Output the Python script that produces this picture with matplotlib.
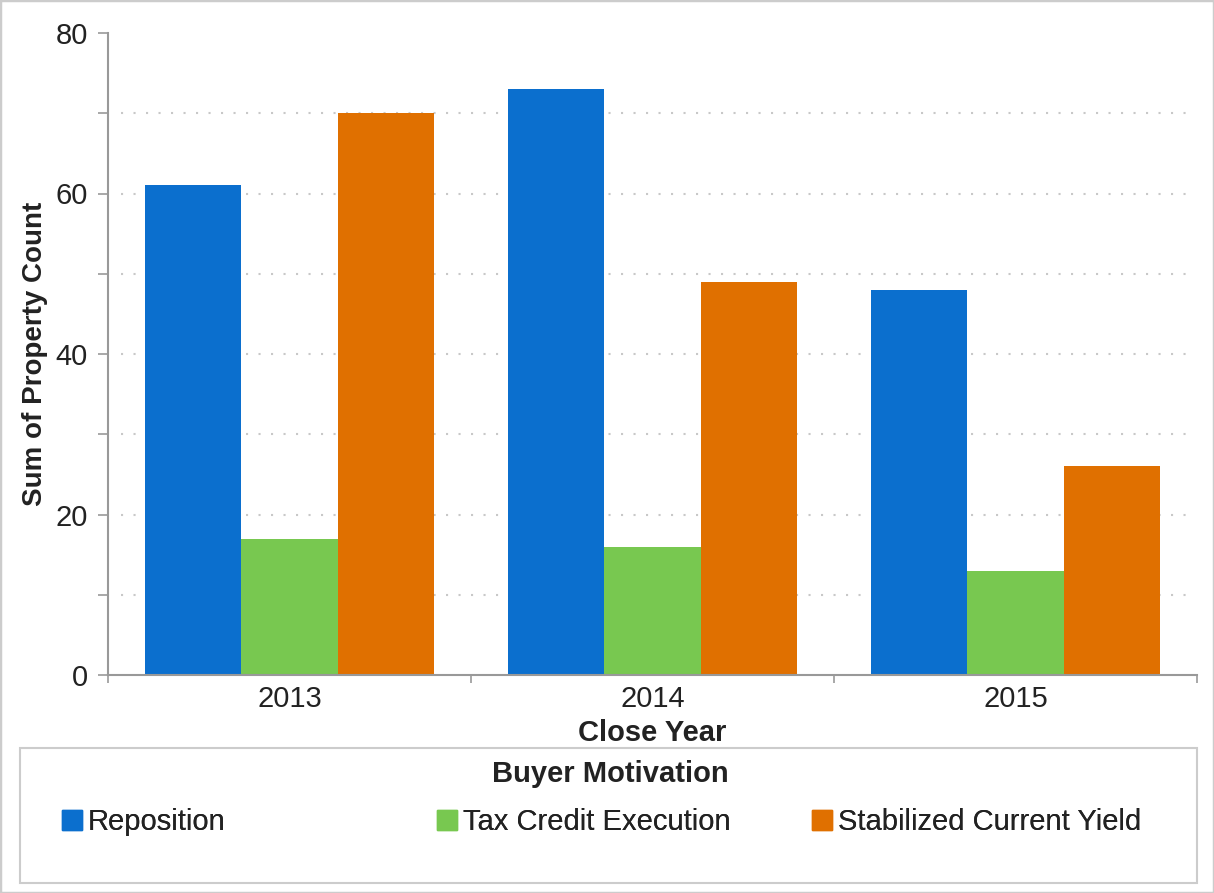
import numpy as np
import matplotlib
matplotlib.use("Agg")
import matplotlib.pyplot as plt
from matplotlib.patches import Rectangle, Patch

# data
years = ["2013", "2014", "2015"]
series = ["Reposition", "Tax Credit Execution", "Stabilized Current Yield"]
reposition = [61, 73, 48]
tax_credit = [17, 16, 13]
stabilized = [70, 49, 26]
colors = ["#0B6FCE", "#78C850", "#E07000"]

plt.rcParams["font.family"] = ["Liberation Sans", "DejaVu Sans"]
W, H = 1214, 893
fs = 21
fig = plt.figure(figsize=(W / 100, H / 100), dpi=100)
ax = fig.add_axes([108 / W, 1 - 675 / H, (1197 - 108) / W, (675 - 33) / H])

x = np.arange(len(years))
bw = 0.265
for i, vals in enumerate([reposition, tax_credit, stabilized]):
    ax.bar(x + (i - 1) * bw, vals, bw, color=colors[i], zorder=2)

ax.set_xlim(-0.5, 2.5)
ax.set_ylim(0, 80)

# dotted grid lines every 10 (not at 0 / 80)
ax.hlines(np.arange(10, 80, 10), -0.465, 2.47, colors="#c8c8c8",
          linestyles=(0, (1, 5)), linewidth=1.5, zorder=0)

gray = "#999999"
for s in ["top", "right"]:
    ax.spines[s].set_visible(False)
for s in ["left", "bottom"]:
    ax.spines[s].set_color(gray)
    ax.spines[s].set_linewidth(1.5)

ax.set_yticks(np.arange(0, 81, 20))
ax.set_yticks(np.arange(10, 80, 20), minor=True)
ax.tick_params(axis="y", which="both", length=7.5, width=1.2, color=gray,
               labelsize=fs, labelcolor="#222222", pad=7)
ax.set_xticks(x, years)
ax.set_xticks([-0.5, 0.5, 1.5, 2.5], minor=True)
ax.tick_params(axis="x", which="major", length=0, labelsize=fs,
               labelcolor="#222222", pad=7)
ax.tick_params(axis="x", which="minor", length=6, width=1.2, color=gray)

ax.set_xlabel("Close Year", fontsize=fs, fontweight="bold", color="#222222")
ax.xaxis.set_label_coords(0.5, -0.068)
ax.set_ylabel("Sum of Property Count", fontsize=20, fontweight="bold",
              color="#222222", va="center")
ax.yaxis.set_label_coords(-0.067, 0.5)

# legend box at the bottom
fig.patches.append(Rectangle((20 / W, 1 - 883 / H), 1177 / W, 135 / H,
                             transform=fig.transFigure, fill=False,
                             edgecolor="#cccccc", linewidth=1.5))
fig.text(610 / W, 1 - 774 / H, "Buyer Motivation", fontsize=fs,
         fontweight="bold", color="#222222", ha="center", va="center")
leg_x = [62, 437, 812]
for i, name in enumerate(series):
    lg = fig.legend([Patch(color=colors[i])], [name], loc="center left",
                    bbox_to_anchor=(leg_x[i] / W, 1 - 822 / H),
                    frameon=False, fontsize=fs, borderpad=0, borderaxespad=0,
                    handlelength=0.69, handleheight=0.69, handletextpad=0.2)
    for t in lg.get_texts():
        t.set_color("#222222")
    fig.add_artist(lg)

# outer light border
fig.patches.append(Rectangle((0, 0), 1, 1, transform=fig.transFigure,
                             fill=False, edgecolor="#cccccc", linewidth=2.5))

fig.savefig("out.png", dpi=100)
